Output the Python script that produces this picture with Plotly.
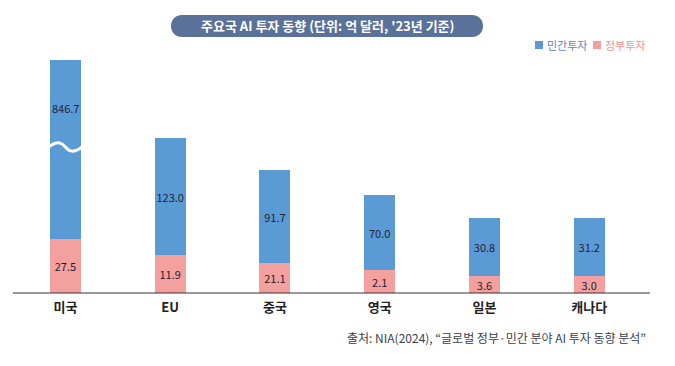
import plotly.graph_objects as go

# ---- data ----
countries = ["미국", "EU", "중국", "영국", "일본", "캐나다"]
series_names = ["민간투자", "정부투자"]
private_values = ["846.7", "123.0", "91.7", "70.0", "30.8", "31.2"]
gov_values = ["27.5", "11.9", "21.1", "2.1", "3.6", "3.0"]
# drawn bar lengths as they appear in the infographic (not to scale with values)
private_len = [179, 117, 93, 75, 58, 58]
gov_len = [54, 38, 30, 23, 17, 17]
us_break_at = 146      # height of the broken-axis wave on the US bar
us_label_at = 185      # height of the US private label (above the break)

title_text = "주요국 AI 투자 동향 (단위: 억 달러, '23년 기준)"
source_text = "출처: NIA(2024), “글로벌 정부·민간 분야 AI 투자 동향 분석”"

BLUE = "#5b9bd5"
PINK = "#f4a09f"
FONT = "Noto Sans CJK KR"
LABEL_COLOR = "#1e2233"

W, H = 675, 366
L, R, T, B = 13, 25, 53, 73
pw, ph = W - L - R, H - T - B


def px(x):
    return (x - L) / pw


def py(y):
    return (H - B - y) / ph


fig = go.Figure()
fig.add_trace(go.Bar(
    x=countries, y=gov_len, name=series_names[1],
    marker=dict(color=PINK, line=dict(width=0)), width=0.296,
    text=gov_values, textposition="inside", insidetextanchor="middle",
    textangle=0, constraintext="none",
    textfont=dict(family=FONT, size=11, color=LABEL_COLOR), hoverinfo="skip",
))
fig.add_trace(go.Bar(
    x=countries, y=private_len, name=series_names[0],
    marker=dict(color=BLUE, line=dict(width=0)), width=0.296,
    text=[""] + private_values[1:], textposition="inside", insidetextanchor="middle",
    textangle=0, constraintext="none",
    textfont=dict(family=FONT, size=11, color=LABEL_COLOR), hoverinfo="skip",
))

# US private label above the break
fig.add_annotation(x=0, y=us_label_at, xref="x", yref="y", text=private_values[0],
                   showarrow=False, xanchor="center", yanchor="middle",
                   font=dict(family=FONT, size=11, color=LABEL_COLOR))

# wavy break on the US bar
hw = 0.16
yb = us_break_at
fig.add_shape(type="path", xref="x", yref="y",
              path=(f"M {-hw},{yb} C {-hw/2},{yb+6} {-hw/4},{yb+5} 0,{yb} "
                    f"C {hw/4},{yb-5} {hw/2},{yb-6} {hw},{yb}"),
              line=dict(color="white", width=3))

# title pill (semicircular ends)
x0, x1, y0, y1 = 171, 483, 15, 37
r = (y1 - y0) / 2
k = 4 / 3 * r
pill = (f"M {px(x0+r)},{py(y0)} L {px(x1-r)},{py(y0)} "
        f"C {px(x1-r+k)},{py(y0)} {px(x1-r+k)},{py(y1)} {px(x1-r)},{py(y1)} "
        f"L {px(x0+r)},{py(y1)} "
        f"C {px(x0+r-k)},{py(y1)} {px(x0+r-k)},{py(y0)} {px(x0+r)},{py(y0)} Z")
fig.add_shape(type="path", xref="paper", yref="paper", path=pill,
              fillcolor="#5a7199", line=dict(width=0), layer="below")
fig.add_annotation(x=px(327), y=py(26), xref="paper", yref="paper",
                   text=f"<b>{title_text}</b>", showarrow=False,
                   xanchor="center", yanchor="middle",
                   font=dict(family=FONT, size=13, color="white"))

# manual legend
legend_items = [(series_names[0], BLUE, "#5f86b8", 535),
                (series_names[1], PINK, "#f08f8f", 593)]
for name, fill, tcol, lx in legend_items:
    fig.add_shape(type="rect", xref="paper", yref="paper",
                  x0=px(lx), x1=px(lx + 8), y0=py(49), y1=py(41),
                  fillcolor=fill, line=dict(width=0))
    fig.add_annotation(x=px(lx + 10), y=py(45), xref="paper", yref="paper",
                       text=name, showarrow=False, xanchor="left", yanchor="middle",
                       font=dict(family=FONT, size=11, color=tcol))

# axis baseline
fig.add_shape(type="line", xref="paper", yref="paper", x0=0, x1=1, y0=0, y1=0,
              line=dict(color="#333333", width=1))

# source
fig.add_annotation(x=px(648), y=py(337), xref="paper", yref="paper",
                   text=source_text, showarrow=False, xanchor="right", yanchor="middle",
                   font=dict(family=FONT, size=12, color="#3a3f4a"))

fig.update_layout(
    width=W, height=H, margin=dict(l=L, r=R, t=T, b=B, autoexpand=False),
    paper_bgcolor="white", plot_bgcolor="white",
    barmode="stack", bargap=0.7,
    showlegend=False,
    xaxis=dict(range=[-0.5, 5.58], showgrid=False, showline=False, zeroline=False,
               ticks="outside", ticklen=2, tickcolor="rgba(0,0,0,0)",
               tickfont=dict(family=FONT, size=13, color="#222222"),
               tickprefix="<b>", ticksuffix="</b>"),
    yaxis=dict(range=[0, ph], visible=False, fixedrange=True),
    font=dict(family=FONT),
)

fig.write_html("out.html", config={"displayModeBar": False},
               post_script="document.body.style.margin='0';")
